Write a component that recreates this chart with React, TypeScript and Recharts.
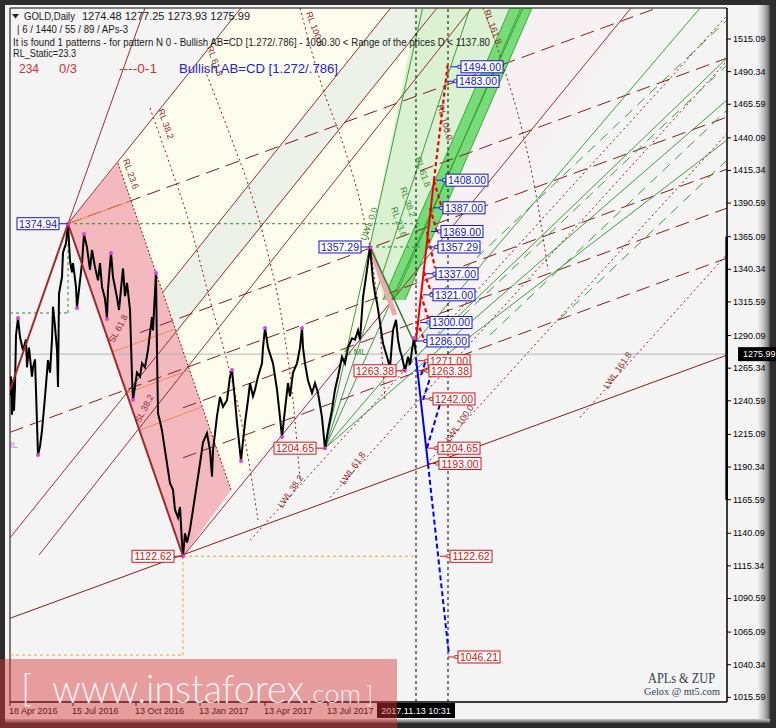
import React from 'react';
import {
  ComposedChart, Line, Area, XAxis, YAxis,
  ReferenceLine, ReferenceDot, ReferenceArea,
} from 'recharts';

// ---------- axes (bar index / price) ----------
const xDomain: [number, number] = [0, 717];
const yDomain: [number, number] = [1012.06, 1538.61];

const priceTicks = [1515.09, 1490.34, 1465.59, 1440.09, 1415.34, 1390.59, 1365.09, 1340.34, 1315.59, 1290.09,
  1265.34, 1240.59, 1215.09, 1190.34, 1165.59, 1140.09, 1115.34, 1090.59, 1065.09, 1040.34, 1015.59];
const dateTickIdx = [0, 63, 126, 190, 255, 318];
const dateTickLabels = ['18 Apr 2016', '15 Jul 2016', '13 Oct 2016', '13 Jan 2017', '13 Apr 2017', '13 Jul 2017'];
const lastPrice = 1275.99;
const cursorIdx = 406;
const cursorIdx2 = 438;
const cursorLabel = '2017.11.13 10:31';

// ---------- GOLD daily closes [bar index, price] ----------
const goldDaily: [number, number][] = [
  [0,1245],[1,1259],[2,1230],[3,1256],[4,1233],[5,1251],[6,1290],[8,1303.4],[10,1289],[13,1279],[16,1287],[17,1266],
  [19,1281],[22,1259],[23,1266],[25,1272],[27,1224],[28,1199.5],[30,1206],[32,1218],[35,1243.5],[38,1271.5],[40,1262],
  [42,1287],[43,1312],[45,1297],[47,1279],[48,1251],[49,1322],[52,1334.5],[53,1353],[56,1360],[58,1374.94],[60,1347],
  [62,1338],[63,1345],[66,1327],[67,1311],[69,1325],[72,1345],[74,1367],[77,1357],[80,1340],[82,1355],[85,1342],
  [88,1332],[90,1345],[92,1327],[95,1318],[97,1303],[98,1325],[101,1353],[103,1334.5],[107,1319],[109,1309.5],
  [113,1341],[115,1320],[117,1330],[120,1309.5],[122,1259],[123,1241],[127,1262],[130,1259],[132,1269],[135,1266],
  [138,1279],[140,1292],[142,1304],[143,1294],[146,1338],[147,1277],[148,1231],[150,1225],[152,1218],[155,1203],
  [158,1188],[160,1178],[163,1173],[165,1158],[168,1152],[170,1160],[172,1133],[173,1122.62],[175,1140],[177,1133],
  [180,1143],[183,1158],[187,1178],[190,1193],[193,1209],[197,1216],[200,1203],[202,1183],[203,1203],[207,1229],
  [210,1243.5],[213,1236],[217,1241],[220,1259],[222,1264],[225,1241],[227,1224],[231,1195],[233,1210],[235,1224],
  [238,1241],[240,1254],[243,1244],[245,1249],[248,1259],[252,1269],[253,1281],[255,1296],[258,1281],[260,1276],
  [263,1269],[267,1249],[270,1228],[272,1213],[275,1234],[278,1254],[280,1244],[283,1262],[287,1269],[290,1281],
  [292,1296],[293,1281],[295,1269],[298,1256],[302,1246.5],[305,1254],[308,1246.5],[312,1228],[313,1220],
  [315,1204.65],[318,1218],[322,1234],[325,1249],[328,1259],[332,1274],[335,1269],[338,1281],[342,1288],[345,1287],
  [348,1294],[350,1287],[353,1319],[357,1340],[360,1357.29],[363,1332],[365,1322],[367,1315],[370,1300],[373,1284],
  [377,1274],[380,1266],[383,1294],[386,1302],[388,1287],[390,1279],[392,1274],[395,1263.38],[398,1274],[400,1268],
  [402,1279],[404,1288],[406,1275.99],
];

const swingPoints: [number, number][] = [
  [8,1303.4],[28,1199.5],[58,1374.94],[67,1311],[74,1367.1],[97,1302.7],[101,1352.7],[123,1241.2],[146,1337.6],
  [173,1122.62],[222,1264],[231,1194.9],[255,1295.8],[272,1213.1],[292,1295.8],[315,1204.65],[360,1357.29],
  [395,1263.38],[404,1288.2],
];

// ---------- drawn objects: segments [i1, p1, i2, p2] ----------
type Seg = [number, number, number, number];
const warningLines: Seg[] = [
  [58,1374.94,231,1538.61],[153,1323.13,380.6,1538.61],[-5,1131.93,427,1538.61],
  [29,1123.59,461.5,1538.61],[173,1122.62,621,1538.61],[58,1374.94,135,1538.61],
];
const medianLines: Seg[] = [
  [58,1374.94,647,1538.61],[0,1216.68,717,1416.3],[130,1292.33,717,1455.83],
  [173,1235.27,717,1386.79],[173,1197.33,717,1348.85],[410,1415.09,717,1500.6],
];
const baseLine: Seg[] = [[0,1075.56,717,1275.25]];
const reactionEdge: Seg[] = [[108,1421.01,221,1172.9]];
const lowerWarningLines: Seg[] = [
  [240,1134.74,717,1532.84],[320,1167.21,717,1498.55],[420,1195.51,717,1443.39],[570,1228.05,717,1351.74],
];
const greenFan: Seg[] = [
  [315,1204.65,412.6,1538.61],[315,1204.65,460,1538.61],[315,1204.65,513,1538.61],[315,1204.65,690,1538.61],
  [315,1204.65,717,1468.81],[390,1262.43,717,1500.67],[410,1260.16,717,1438.46],
];
const greenBandEdges: Seg[] = [
  [373,1317.06,500,1538.61],[384,1317.06,511,1538.61],[395,1317.06,522,1538.61],
];
const greenDashed: Seg[] = [
  [430,1322.68,717,1529.5],[440,1295.67,717,1495.36],[480,1290.51,717,1461.22],[550,1302.95,717,1423.29],
];
const greenGuides: Seg[] = [
  [58,1374.94,410,1374.94],[360,1357.29,410,1357.29],[0,1307.2,58,1307.2],[58,1307.2,58,1374.94],
];
const orangeGuides: Seg[] = [
  [173,1122.62,406,1122.62],[173,1122.62,173,1047.69],[0,1047.69,173,1047.69],
];
const patternLegs: Seg[] = [[0,1248.78,58,1374.94],[58,1374.94,173,1122.62]];
const schiffLines: Seg[] = [
  [117,1246.5,179.5,1263.95],[102.5,1277.61,165,1295.06],[130,1218.43,192,1235.88],[58,1374.94,121,1392.18],
];
const cdLegPink: Seg[] = [[360,1357.29,385,1305.68]];
const cdLegGreen: Seg[] = [[360,1357.29,403,1286.71]];
const zupRedSolid: Seg[] = [[406,1286.71,424,1408.11]];
const zupRedDashed: Seg[] = [
  [424,1408.11,438,1497.64],[424,1407.35,432,1386.86],[420,1386.86,427,1368.66],[417,1368.66,425,1341.34],
  [414,1338.31,422,1320.86],[411,1320.86,419,1301.13],[407,1301.13,415,1285.19],
];
const zupBlueSolid: Seg[] = [[406,1273.06,418,1192.63]];
const zupBlueDashed: Seg[] = [
  [418,1192.63,439,1047.69],[417,1204.77,430,1238.15],[411,1260.16,416,1271.54],[413,1241.19,422,1262.43],
];

// Fibonacci arcs (dotted)
const arcs: [number, number][][] = [
  [[140,1462.74],[160,1419.49],[180,1373.97],[200,1317.06],[218,1267.74],[235,1210.84],[248,1150.14]],
  [[195,1491.57],[220,1442.25],[240,1400.52],[257,1355.0],[272,1301.89],[283,1241.19],[290,1180.49]],
  [[290,1538.61],[310,1483.98],[335,1430.87],[352,1385.35],[362,1347.41],[370,1294.3],[375,1241.19]],
  [[473,1538.61],[493,1495.36],[512,1446.05],[527,1392.93],[538,1339.82]],
];

// Filled zones [i, low, high]
type Poly = [number, number, number][];
const creamZone: Poly = [[108,1421.01,1421.01],[221,1172.9,1529.05],[231,1182.16,1538.61],[395,1333.98,1538.61],[420,1538.61,1538.61]];
const stripeZone: Poly = [[153,1323.13,1323.13],[167,1291.26,1336.03],[380.6,1494.04,1538.61],[427.6,1538.61,1538.61]];
const pinkZone: Poly = [[58,1374.94,1374.94],[108,1265.54,1421.01],[173,1122.62,1278.29],[221,1172.9,1172.9]];
const paleGreenZone: Poly = [[360,1358.79,1358.79],[373,1317.06,1407.5],[408,1378.14,1538.61],[500,1538.61,1538.61]];
const palePinkZone: Poly = [[395,1317.06,1317.06],[420,1294.3,1360.69],[522,1412.97,1538.61],[630,1538.61,1538.61]];
const greenBand: Poly = [[373,1317.06,1317.06],[395,1317.06,1355.45],[500,1500.22,1538.61],[522,1538.61,1538.61]];

// ZUP target labels [box-left index, price]
const upperTargets: [number, number][] = [
  [451,1494.00],[447,1483.00],[436,1408.00],[433,1387.00],[431,1369.00],[428,1357.29],[426,1337.00],[423,1321.00],
  [420,1300.00],[417,1286.00],
];
const lowerTargets: [number, number][] = [
  [418,1271.00],[419,1263.38],[423,1242.00],[428,1204.65],[429,1193.00],[440,1122.62],[448,1046.21],
];
// pattern point labels [point index, price, colour]
const pointLabels: [number, number, string][] = [
  [58,1374.94,'#1414d2'],[360,1357.29,'#1414d2'],[395,1263.38,'#d41414'],[315,1204.65,'#d41414'],[173,1122.62,'#d41414'],
];
// rotated texts on drawn lines [i, price, text, colour, angle]
const lineTexts: [number, number, string, string, number][] = [
  [118,1411.9,'RL 23.6','#8b2b2b',70],[153,1449.84,'RL 38.2','#8b2b2b',70],[202,1497.64,'RL 61.8','#8b2b2b',70],
  [302,1521.92,'RL 100.0','#8b2b2b',70],[480,1523.44,'RL 161.8','#8b2b2b',70],[432,1451.36,'RL 100.0','#8b2b2b',75],
  [111,1294.3,'SL 61.8','#8b2b2b',-62],[137,1233.6,'SL 38.2','#8b2b2b',-62],
  [283,1170.62,'LWL 38.2','#8b2b2b',-55],[345,1188.1,'LWL 61.8','#8b2b2b',-55],
  [452,1222.22,'LWL 100.0','#8b2b2b',-55],[610,1262.43,'LWL 161.8','#8b2b2b',-55],
  [362,1373.97,'UWL 0.0','#2f8f2f',-70],[410,1413.42,'RL 61.8','#2f8f2f',70],[395,1390.66,'RL 38.2','#2f8f2f',70],
  [386,1375.48,'RL 23.6','#2f8f2f',70],[345,1275.33,'½ ML','#2f8f2f',0],[4,1204.77,'IL','#d27ad2',0],
];

const FONT = '"Liberation Sans", Arial, sans-serif';

const segLines = (list: Seg[], key: string, style: any) =>
  list.map((s, k) => (
    <ReferenceLine key={key + k} segment={[{ x: s[0], y: s[1] }, { x: s[2], y: s[3] }]}
      ifOverflow="hidden" {...style} />
  ));

const polyData = (p: Poly) => p.map(([i, lo, hi]) => ({ i, r: [lo, hi] }));

const rightBox = (color: string, text: string) => (props: any) => {
  const { cx, cy } = props;
  return (
    <g>
      <line x1={cx - 10} y1={cy} x2={cx} y2={cy} stroke={color} strokeWidth={1} />
      <rect x={cx - 3} y={cy - 1.5} width={3} height={3} fill="#fff" stroke={color} strokeWidth={0.8} />
      <rect x={cx} y={cy - 6} width={42} height={12} fill="#fff" stroke={color} strokeWidth={1} />
      <text x={cx + 21} y={cy + 4} textAnchor="middle" fontSize={10.5} fill={color} fontFamily={FONT}>{text}</text>
    </g>
  );
};
const leftBox = (color: string, text: string) => (props: any) => {
  const { cx, cy } = props;
  return (
    <g>
      <line x1={cx - 9} y1={cy} x2={cx} y2={cy} stroke={color} strokeWidth={1} />
      <rect x={cx - 51} y={cy - 6} width={42} height={12} fill="#fff" stroke={color} strokeWidth={1} />
      <text x={cx - 30} y={cy + 4} textAnchor="middle" fontSize={10.5} fill={color} fontFamily={FONT}>{text}</text>
    </g>
  );
};
const rotText = (text: string, color: string, angle: number) => (props: any) => {
  const { cx, cy } = props;
  return (
    <text x={cx} y={cy} transform={`rotate(${angle} ${cx} ${cy})`} textAnchor="middle" fontSize={9}
      fill={color} fontFamily={FONT}>{text}</text>
  );
};
const dotShape = (props: any) => <circle cx={props.cx} cy={props.cy} r={2} fill="#e23ee2" />;

const XTick = (props: any) => {
  const { x, y, payload } = props;
  const k = dateTickIdx.indexOf(payload.value);
  return (
    <text x={x - 1} y={y + 6} textAnchor="start" fontSize={9} fill="#000" fontFamily={FONT}>
      {dateTickLabels[k]}
    </text>
  );
};
const YTick = (props: any) => {
  const { x, y, payload } = props;
  return (
    <text x={x} y={y + 3} textAnchor="start" fontSize={9} fill="#000" fontFamily={FONT}>
      {Number(payload.value).toFixed(2)}
    </text>
  );
};

const lastPriceShape = (props: any) => {
  const { cx, cy } = props;
  return (
    <g>
      <rect x={cx + 11} y={cy - 7} width={47} height={14} fill="#000" />
      <text x={cx + 16} y={cy + 3} fontSize={9} fill="#fff" fontFamily={FONT}>{lastPrice.toFixed(2)}</text>
    </g>
  );
};
const cursorShape = (props: any) => {
  const { cx, cy } = props;
  return (
    <g>
      <rect x={cx - 39} y={cy + 1} width={78} height={15} fill="#000" />
      <text x={cx} y={cy + 12} textAnchor="middle" fontSize={9} fill="#fff" fontFamily={FONT}>{cursorLabel}</text>
    </g>
  );
};

const brown = '#8b1a1a';

export default function App() {
  const priceData = goldDaily.map(([i, c]) => ({ i, c }));
  return (
    <div style={{ position: 'absolute', left: 0, top: 0, width: 776, height: 728, background: '#2e2e2e', overflow: 'hidden' }}>
      <div style={{ position: 'absolute', left: 5, top: 5, width: 753, height: 714, background: '#f4f4f4' }} />
      <div style={{ position: 'absolute', left: 758, top: 5, width: 12, height: 714,
        background: 'linear-gradient(to right, #f0f0f0, #c8c8c8 40%, #8a8a8a 80%, #4a4a4a)' }} />
      <div style={{ position: 'absolute', left: 5, top: 719, width: 765, height: 4,
        background: 'linear-gradient(to bottom, #c8c8c8, #555)' }} />
      <div style={{ position: 'absolute', left: 0, top: 0 }}>
        <ComposedChart width={776} height={728} margin={{ top: 8, right: 0, bottom: 0, left: 10 }}>
          <XAxis dataKey="i" type="number" domain={xDomain} allowDataOverflow ticks={dateTickIdx} interval={0}
            tick={XTick} tickSize={4} tickLine={{ stroke: '#000' }} axisLine={{ stroke: '#000' }} height={26} />
          <YAxis orientation="right" type="number" domain={yDomain} allowDataOverflow ticks={priceTicks} interval={0}
            tick={YTick} tickSize={4} tickMargin={2} tickLine={{ stroke: '#000' }} axisLine={{ stroke: '#000' }} width={49} />

          <Area data={polyData(creamZone)} dataKey="r" type="linear" fill="#fdfdee" fillOpacity={1} stroke="none" isAnimationActive={false} dot={false} activeDot={false} />
          <Area data={polyData(stripeZone)} dataKey="r" type="linear" fill="#edf2e9" fillOpacity={1} stroke="none" isAnimationActive={false} dot={false} activeDot={false} />
          <Area data={polyData(palePinkZone)} dataKey="r" type="linear" fill="#f8f1f3" fillOpacity={1} stroke="none" isAnimationActive={false} dot={false} activeDot={false} />
          <Area data={polyData(paleGreenZone)} dataKey="r" type="linear" fill="#daf1d2" fillOpacity={1} stroke="none" isAnimationActive={false} dot={false} activeDot={false} />
          <Area data={polyData(pinkZone)} dataKey="r" type="linear" fill="#f4b8bf" fillOpacity={1} stroke="none" isAnimationActive={false} dot={false} activeDot={false} />
          <Area data={polyData(greenBand)} dataKey="r" type="linear" fill="#69d869" fillOpacity={0.9} stroke="none" isAnimationActive={false} dot={false} activeDot={false} />

          <ReferenceLine y={lastPrice} stroke="#b4b4b4" strokeWidth={1} />

          {segLines(warningLines, 'w', { stroke: brown, strokeWidth: 0.9 })}
          {segLines(medianLines, 'm', { stroke: brown, strokeWidth: 1, strokeDasharray: '14 7' })}
          {segLines(baseLine, 'b', { stroke: brown, strokeWidth: 1 })}
          {segLines(reactionEdge, 're', { stroke: brown, strokeWidth: 1, strokeDasharray: '2 2' })}
          {segLines(lowerWarningLines, 'lw', { stroke: brown, strokeWidth: 1, strokeDasharray: '2 3' })}
          {segLines(greenFan, 'gf', { stroke: '#2f8f2f', strokeWidth: 0.9 })}
          {segLines(greenBandEdges, 'ge', { stroke: '#2f9f2f', strokeWidth: 0.9 })}
          {segLines(greenDashed, 'gd', { stroke: '#3a9a3a', strokeWidth: 1, strokeDasharray: '10 7' })}
          {segLines(greenGuides, 'gg', { stroke: '#2a8a2a', strokeWidth: 1, strokeDasharray: '3 3' })}
          {segLines(orangeGuides, 'og', { stroke: '#f0a020', strokeWidth: 1, strokeDasharray: '3 3' })}
          {segLines(schiffLines, 'sl', { stroke: '#e8904a', strokeWidth: 1 })}
          {segLines(cdLegPink, 'cp', { stroke: '#f2a7b0', strokeWidth: 5 })}
          {segLines(cdLegGreen, 'cg', { stroke: '#2f7f2f', strokeWidth: 1.5 })}

          {arcs.map((a, k) => (
            <Line key={'arc' + k} data={a.map(([i, p]) => ({ i, p }))} dataKey="p" type="monotone" stroke={brown}
              strokeWidth={1} strokeDasharray="2 3" dot={false} activeDot={false} isAnimationActive={false} />
          ))}

          <ReferenceLine x={cursorIdx} stroke="#000" strokeDasharray="3 3" />
          <ReferenceLine x={cursorIdx2} stroke="#000" strokeDasharray="3 3" />

          <Line data={priceData} dataKey="c" type="linear" stroke="#000" strokeWidth={2} dot={false}
            activeDot={false} isAnimationActive={false} />

          {segLines(patternLegs, 'pl', { stroke: '#9e2a2a', strokeWidth: 2 })}
          {segLines(zupRedSolid, 'rs', { stroke: '#ee0000', strokeWidth: 2 })}
          {segLines(zupRedDashed, 'rd', { stroke: '#ee0000', strokeWidth: 2.2, strokeDasharray: '4 3' })}
          {segLines(zupBlueSolid, 'bs', { stroke: '#0000ee', strokeWidth: 2 })}
          {segLines(zupBlueDashed, 'bd', { stroke: '#0000ee', strokeWidth: 2, strokeDasharray: '5 3' })}

          {swingPoints.map(([i, p], k) => (
            <ReferenceDot key={'sp' + k} x={i} y={p} r={2} ifOverflow="visible" shape={dotShape} />
          ))}
          {lineTexts.map(([i, p, t, c, a], k) => (
            <ReferenceDot key={'lt' + k} x={i} y={p} r={1} ifOverflow="visible" shape={rotText(t, c, a)} />
          ))}
          {upperTargets.map(([i, p], k) => (
            <ReferenceDot key={'ut' + k} x={i} y={p} r={1} ifOverflow="visible" shape={rightBox('#1414d2', p.toFixed(2))} />
          ))}
          {lowerTargets.map(([i, p], k) => (
            <ReferenceDot key={'lt2' + k} x={i} y={p} r={1} ifOverflow="visible" shape={rightBox('#d41414', p.toFixed(2))} />
          ))}
          {pointLabels.map(([i, p, c], k) => (
            <ReferenceDot key={'pl' + k} x={i} y={p} r={1} ifOverflow="visible" shape={leftBox(c, p.toFixed(2))} />
          ))}

          <ReferenceLine segment={[{ x: 716.6, y: 1165.59 }, { x: 716.6, y: 1365.09 }]} stroke="#000" strokeWidth={2.5} ifOverflow="visible" />
          <ReferenceArea x1={xDomain[0]} x2={xDomain[1]} y1={yDomain[0]} y2={yDomain[1]} fill="none" stroke="#000" strokeWidth={1} ifOverflow="visible" />
          <ReferenceDot x={xDomain[1]} y={lastPrice} r={1} ifOverflow="visible" shape={lastPriceShape} />
          <ReferenceDot x={cursorIdx} y={yDomain[0]} r={1} ifOverflow="visible" shape={cursorShape} />
        </ComposedChart>
      </div>

      <svg width={776} height={728} style={{ position: 'absolute', left: 0, top: 0, pointerEvents: 'none' }}>
        <g fontFamily={FONT} fontSize={10} fill="#1a1a1a">
          <polygon points="12,14 19,14 15.5,18.5" fill="#222" />
          <text x={24} y={20} textLength={51} lengthAdjust="spacingAndGlyphs">GOLD,Daily</text>
          <text x={82} y={20} textLength={168} lengthAdjust="spacingAndGlyphs">1274.48 1277.25 1273.93 1275.99</text>
          <text x={17} y={33} textLength={111} lengthAdjust="spacingAndGlyphs">| 6 / 1440 / 55 / 89 / APs-3</text>
          <text x={13} y={46} textLength={477} lengthAdjust="spacingAndGlyphs">It is found 1 patterns  -  for pattern N 0 - Bullish AB=CD [1.272/.786] - 1090.30 &lt; Range of the prices D &lt; 1137.80</text>
          <text x={13} y={57} textLength={63} lengthAdjust="spacingAndGlyphs">RL_Static=23.3</text>
        </g>
        <g fontFamily={FONT} fontSize={13}>
          <text x={19} y={73} fill="#c83434" textLength={20} lengthAdjust="spacingAndGlyphs">234</text>
          <text x={59} y={73} fill="#c83434" textLength={18} lengthAdjust="spacingAndGlyphs">0/3</text>
          <text x={119} y={73} fill="#c83434" textLength={38} lengthAdjust="spacingAndGlyphs">----0-1</text>
          <text x={179} y={73} fill="#2222d4" textLength={159} lengthAdjust="spacingAndGlyphs">Bullish AB=CD [1.272/.786]</text>
        </g>
        <text x={648} y={683} fontFamily='"Liberation Serif", serif' fontSize={15} fill="#34404c" textLength={67} lengthAdjust="spacingAndGlyphs">APLs &amp; ZUP</text>
        <text x={644} y={695} fontFamily='"Liberation Serif", serif' fontSize={10} fill="#34404c" textLength={76} lengthAdjust="spacingAndGlyphs">Gelox @ mt5.com</text>

        <rect x={0} y={659} width={397} height={69} fill="rgba(215,50,50,0.45)" />
        <g fill="rgba(255,255,255,0.9)" fontFamily='Lato, "Liberation Sans", sans-serif' fontWeight={300}>
          <text x={21} y={701} fontSize={38}>[</text>
          <text x={52} y={703} fontSize={40} textLength={252} lengthAdjust="spacingAndGlyphs">www.instaforex</text>
          <text x={306} y={703} fontSize={26} textLength={55} lengthAdjust="spacingAndGlyphs">.com</text>
          <text x={366} y={703} fontSize={24}>]</text>
        </g>
      </svg>
    </div>
  );
}
